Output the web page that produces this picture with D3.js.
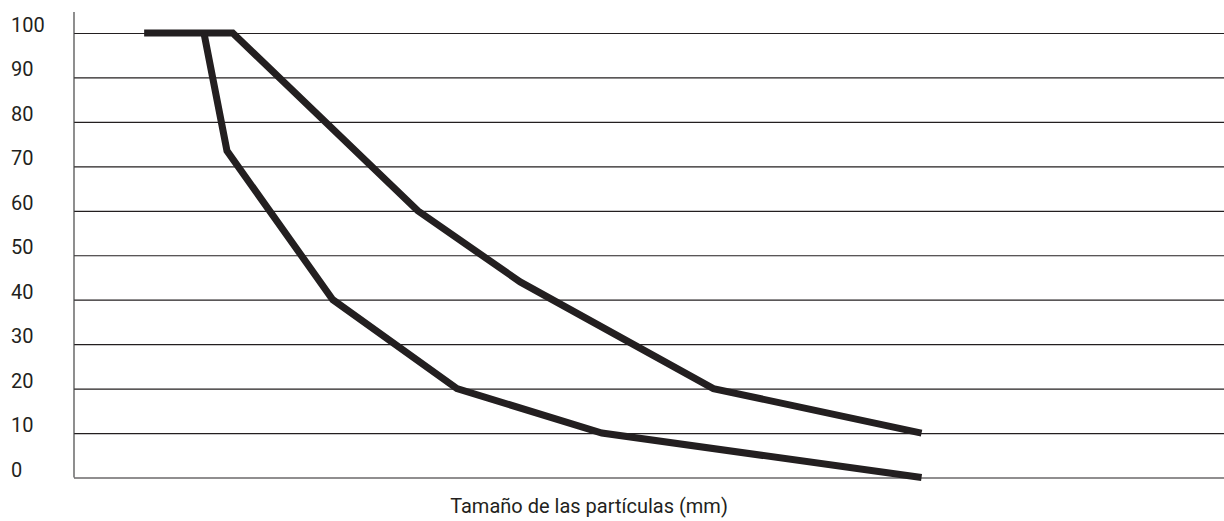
<!DOCTYPE html>
<html>
<head>
<meta charset="utf-8">
<script src="https://cdn.jsdelivr.net/npm/d3@7"></script>
<style>
  body { margin: 0; background: #fff; }
  svg { display: block; }
</style>
</head>
<body>
<svg id="chart" width="1224" height="521"></svg>
<script>
// y axis ticks (percent passing)
var yTicks = [0, 10, 20, 30, 40, 50, 60, 70, 80, 90, 100];

// x positions are in relative units (the chart shows no x ticks)
var upperX = [6.1, 13.8, 29.9, 38.8, 55.6, 73.7];
var upperY = [100, 100, 60, 44, 20, 10];

var lowerX = [11.3, 13.3, 22.5, 33.3, 45.9, 73.7];
var lowerY = [100, 73.5, 40, 20, 10, 0];

var xTitle = "Tamaño de las partículas (mm)";

var svg = d3.select("#chart"),
    width = +svg.attr("width"),
    height = +svg.attr("height");

var margin = {top: 33, right: 0, bottom: 43.5, left: 74};
var ink = "#231f20";

var x = d3.scaleLinear()
    .domain([0, 100])
    .range([margin.left, width - margin.right]);

var y = d3.scaleLinear()
    .domain([0, 100])
    .range([height - margin.bottom, margin.top]);

// gridlines
var grid = svg.append("g")
    .attr("transform", "translate(" + margin.left + ",0)")
    .call(d3.axisRight(y).tickValues(yTicks).tickSize(width - margin.left - margin.right).tickFormat(""));
grid.select(".domain").remove();
grid.selectAll(".tick line").attr("stroke", ink).attr("stroke-width", 1.2);

// vertical axis line
svg.append("line")
    .attr("x1", margin.left).attr("x2", margin.left)
    .attr("y1", 12).attr("y2", y(0))
    .attr("stroke", "#444")
    .attr("stroke-width", 1.2);

// y labels, left aligned above each gridline
svg.append("g")
  .selectAll("text")
  .data(yTicks)
  .enter().append("text")
    .attr("x", 11)
    .attr("y", function(d) { return y(d) - 1; })
    .attr("font-family", "Roboto, sans-serif")
    .attr("font-size", 20)
    .attr("fill", ink)
    .text(function(d) { return d; });

// x title
svg.append("text")
    .attr("x", 589)
    .attr("y", 512.5)
    .attr("text-anchor", "middle")
    .attr("font-family", "Roboto, sans-serif")
    .attr("font-size", 20)
    .attr("fill", ink)
    .text(xTitle);

var line = d3.line()
    .x(function(d) { return x(d[0]); })
    .y(function(d) { return y(d[1]); });

var series = [d3.zip(upperX, upperY), d3.zip(lowerX, lowerY)];

svg.append("g")
  .selectAll("path")
  .data(series)
  .enter().append("path")
    .attr("d", line)
    .attr("fill", "none")
    .attr("stroke", ink)
    .attr("stroke-width", 7)
    .attr("stroke-linejoin", "miter")
    .attr("stroke-linecap", "butt");
</script>
</body>
</html>
